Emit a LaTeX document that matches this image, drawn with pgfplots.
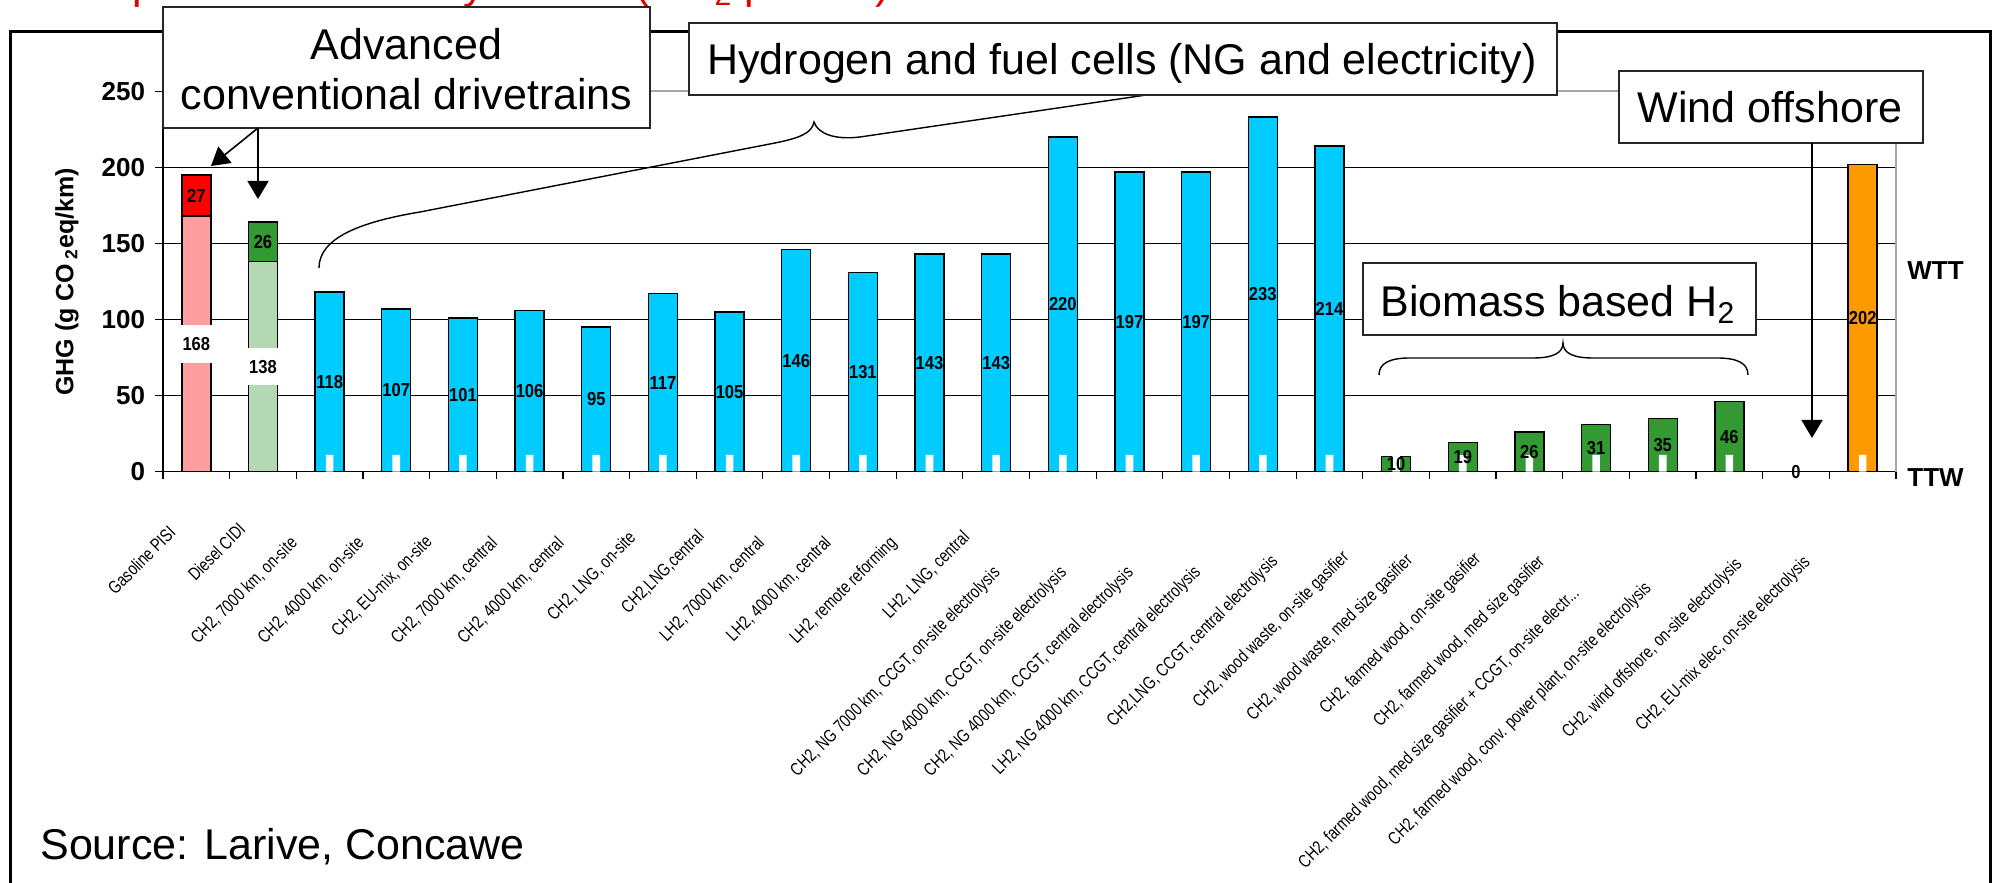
\documentclass[border=0pt]{standalone}
\usepackage{pgfplots}
\pgfplotsset{compat=1.18}
\usepackage{fontspec}
\setmainfont{Liberation Sans}
\newfontfamily\narrowfont[FakeStretch=0.79]{Liberation Sans}
\newfontfamily\condbold[FakeStretch=0.88]{Liberation Sans}
\usetikzlibrary{arrows.meta}
\definecolor{hblue}{RGB}{0,204,255}
\definecolor{bgreen}{RGB}{51,153,51}
\definecolor{lgreen}{RGB}{180,216,180}
\definecolor{pinkk}{RGB}{255,158,158}
\definecolor{orng}{RGB}{255,153,0}
\definecolor{ttlred}{RGB}{225,0,0}
\newlength\lblw
\NewDocumentCommand\xl{m}{\settowidth{\lblw}{#1}#1\hspace*{0.29\lblw}}
\pgfplotstableread{
x y l
0 181.5 27
1 151 26
2 59 118
3 53.5 107
4 50.5 101
5 53 106
6 47.5 95
7 58.5 117
8 52.5 105
9 73 146
10 65.5 131
11 71.5 143
12 71.5 143
13 110 220
14 98.5 197
15 98.5 197
16 116.5 233
17 107 214
18 5 10
19 9.5 19
20 13 26
21 15.5 31
22 17.5 35
23 23 46
24 0 0
25 101 202
}\vallabels
\pgfplotstableread{
x y l
0 84 168
1 69 138
}\wlabels
\begin{document}
\begin{tikzpicture}
\useasboundingbox (0,0) rectangle (996pt,441.5pt);
\begin{axis}[
  at={(81.5pt,205.65pt)}, anchor=south west,
  width=866.5pt, height=190.25pt, scale only axis,
  xmin=-0.5, xmax=25.5, ymin=0, ymax=250,
  clip=false,
  axis lines*=left,
  axis line style={black, line width=0.7pt},
  /pgf/number format/assume math mode=true,
  ytick={0,50,100,150,200,250},
  ymajorgrids, grid style={black, line width=0.55pt},
  xtick={-0.5,0.5,1.5,2.5,3.5,4.5,5.5,6.5,7.5,8.5,9.5,10.5,11.5,12.5,13.5,14.5,15.5,16.5,17.5,18.5,19.5,20.5,21.5,22.5,23.5,24.5,25.5},
  x tick label as interval,
  tick align=outside,
  major tick length=3.8pt,
  tick style={black, line width=0.6pt},
  yticklabel style={font=\fontsize{13}{13}\selectfont\bfseries, inner sep=0pt, xshift=-5pt},
  xticklabel style={xshift=-3pt, yshift=-16pt, rotate=45, anchor=east, inner sep=0pt, font=\narrowfont\fontsize{9}{10}\selectfont},
  xticklabels={
    {\xl{Gasoline PISI}},
    {\xl{Diesel CIDI}},
    {\xl{CH2, 7000 km, on-site}},
    {\xl{CH2, 4000 km, on-site}},
    {\xl{CH2, EU-mix, on-site}},
    {\xl{CH2, 7000 km, central}},
    {\xl{CH2, 4000 km, central}},
    {\xl{CH2, LNG, on-site}},
    {\xl{CH2,LNG,central}},
    {\xl{LH2, 7000 km, central}},
    {\xl{LH2, 4000 km, central}},
    {\xl{LH2, remote reforming}},
    {\xl{LH2, LNG, central}},
    {\xl{CH2, NG 7000 km, CCGT, on-site electrolysis}},
    {\xl{CH2, NG 4000 km, CCGT, on-site electrolysis}},
    {\xl{CH2, NG 4000 km, CCGT, central electrolysis}},
    {\xl{LH2, NG 4000 km, CCGT, central electrolysis}},
    {\xl{CH2,LNG, CCGT, central electrolysis}},
    {\xl{CH2, wood waste, on-site gasifier}},
    {\xl{CH2, wood waste, med size gasifier}},
    {\xl{CH2, farmed wood, on-site gasifier}},
    {\xl{CH2, farmed wood, med size gasifier}},
    {\xl{CH2, farmed wood, med size gasifier + CCGT, on-site electr...}},
    {\xl{CH2, farmed wood, conv. power plant, on-site electrolysis}},
    {\xl{CH2, wind offshore, on-site electrolysis}},
    {\xl{CH2, EU-mix elec, on-site electrolysis}}
  },
  ylabel={GHG (g CO\,\textsubscript{2}eq/km)},
  ylabel style={at={(axis description cs:-0.0554,0.4986)}, anchor=center, rotate=0, font=\fontsize{12.5}{13}\selectfont\bfseries},
]
\addplot[ybar, bar width=14.5pt, bar shift=0pt, fill=red, draw=black, line width=0.7pt] coordinates {(0,195)};
\addplot[ybar, bar width=14.5pt, bar shift=0pt, fill=pinkk, draw=black, line width=0.7pt] coordinates {(0,168)};
\addplot[ybar, bar width=14.5pt, bar shift=0pt, fill=bgreen, draw=black, line width=0.7pt] coordinates {(1,164)};
\addplot[ybar, bar width=14.5pt, bar shift=0pt, fill=lgreen, draw=black, line width=0.7pt] coordinates {(1,138)};
\addplot[ybar, bar width=14.5pt, bar shift=0pt, fill=hblue, draw=black, line width=0.7pt] coordinates {
(2,118)(3,107)(4,101)(5,106)(6,95)(7,117)(8,105)(9,146)(10,131)(11,143)(12,143)(13,220)(14,197)(15,197)(16,233)(17,214)};
\addplot[ybar, bar width=14.5pt, bar shift=0pt, fill=bgreen, draw=black, line width=0.7pt] coordinates {
(18,10)(19,19)(20,26)(21,31)(22,35)(23,46)};
\addplot[ybar, bar width=14.5pt, bar shift=0pt, fill=orng, draw=black, line width=0.7pt] coordinates {(25,202)};
\addplot[ybar, bar width=3.8pt, bar shift=0pt, fill=white, draw=none] coordinates {
(2,11)(3,11)(4,11)(5,11)(6,11)(7,11)(8,11)(9,11)(10,11)(11,11)(12,11)(13,11)(14,11)(15,11)(16,11)(17,11)(18,11)(19,11)(20,11)(21,11)(22,11)(23,11)(25,11)};
\draw[gray!70, line width=0.9pt] (axis cs:-0.5,250) -- (axis cs:25.5,250) -- (axis cs:25.5,0);
\addplot[scatter, only marks, mark=*, mark size=0pt, scatter/use mapped color={draw=none, fill=none}, point meta=explicit symbolic,
  scatter/@pre marker code/.code={\node[font=\condbold\fontsize{9.4}{10}\selectfont\bfseries, inner sep=0pt] {\pgfplotspointmeta};},
  scatter/@post marker code/.code={}] table[x=x, y=y, meta=l] {\vallabels};
\addplot[scatter, only marks, mark=*, mark size=0pt, scatter/use mapped color={draw=none, fill=none}, point meta=explicit symbolic,
  scatter/@pre marker code/.code={\node[fill=white, font=\condbold\fontsize{9.4}{10}\selectfont\bfseries, inner xsep=8pt, inner ysep=6pt] {\pgfplotspointmeta};},
  scatter/@post marker code/.code={}] table[x=x, y=y, meta=l] {\wlabels};
\end{axis}
\begin{scope}[shift={(0pt,441.5pt)}, x=0.5pt, y=-0.5pt]
  % outer frame
  \draw[black, line width=1.4pt] (10.5,960) -- (10.5,31.7) -- (1990.5,31.7) -- (1990.5,960);
  % title (cut off at the top)
  \node[anchor=base west, text=ttlred, inner sep=0pt, font=\fontsize{21.5}{24}\selectfont] at (22,-1) {Example: GHG intensity results (CO\textsubscript{2} per km)};
  % hydrogen brace
  \draw[black, line width=0.7pt] (319,268) .. controls (319,238) and (360,222) .. (420,212) -- (775,143) .. controls (800,138) and (812,133) .. (814,122) .. controls (818,134) and (835,140) .. (860,137) -- (1160,93);
  % biomass brace
  \draw[black, line width=0.7pt] (1379,375) .. controls (1379,363) and (1390,358) .. (1410,358) -- (1533,358) .. controls (1553,358) and (1563,353) .. (1563,343) .. controls (1563,353) and (1573,358) .. (1593,358) -- (1717,358) .. controls (1737,358) and (1748,363) .. (1748,375);
  % boxes
  \draw[black!85, line width=0.9pt, fill=white] (163,7) rectangle (650,128);
  \draw[black!85, line width=0.9pt, fill=white] (689,23) rectangle (1557,95);
  \draw[black!85, line width=0.9pt, fill=white] (1619,71) rectangle (1923,143);
  \draw[black!85, line width=0.9pt, fill=white] (1363,263) rectangle (1756,335);
  \node[anchor=base, inner sep=0pt, font=\fontsize{21.5}{24}\selectfont] at (406.5,60) {Advanced};
  \node[anchor=base, inner sep=0pt, font=\fontsize{21.5}{24}\selectfont] at (406.5,110) {conventional drivetrains};
  \node[anchor=base, inner sep=0pt, font=\fontsize{21.5}{24}\selectfont] at (1122,75) {Hydrogen and fuel cells (NG and electricity)};
  \node[anchor=base, inner sep=0pt, font=\fontsize{21.5}{24}\selectfont] at (1770,123) {Wind offshore};
  \node[anchor=base, inner sep=0pt, font=\fontsize{21.5}{24}\selectfont] at (1558,317) {Biomass based H\textsubscript{2}};
  % arrows
  \draw[black, line width=0.8pt, -{Triangle[length=9pt,width=10.5pt]}] (258,128) -- (211,166);
  \draw[black, line width=0.8pt, -{Triangle[length=9pt,width=10.5pt]}] (258,128) -- (258,199);
  \draw[black, line width=0.8pt, -{Triangle[length=9pt,width=10.5pt]}] (1812,143) -- (1812,438);
  % side labels
  \node[anchor=base west, inner sep=0pt, font=\fontsize{13}{13}\selectfont\bfseries] at (1907,280) {WTT};
  \node[anchor=base west, inner sep=0pt, font=\fontsize{13}{13}\selectfont\bfseries] at (1907,487) {TTW};
  % source
  \node[anchor=base west, inner sep=0pt, font=\fontsize{21.5}{24}\selectfont] at (40,860) {Source: Larive, Concawe};
\end{scope}
\end{tikzpicture}
\end{document}
